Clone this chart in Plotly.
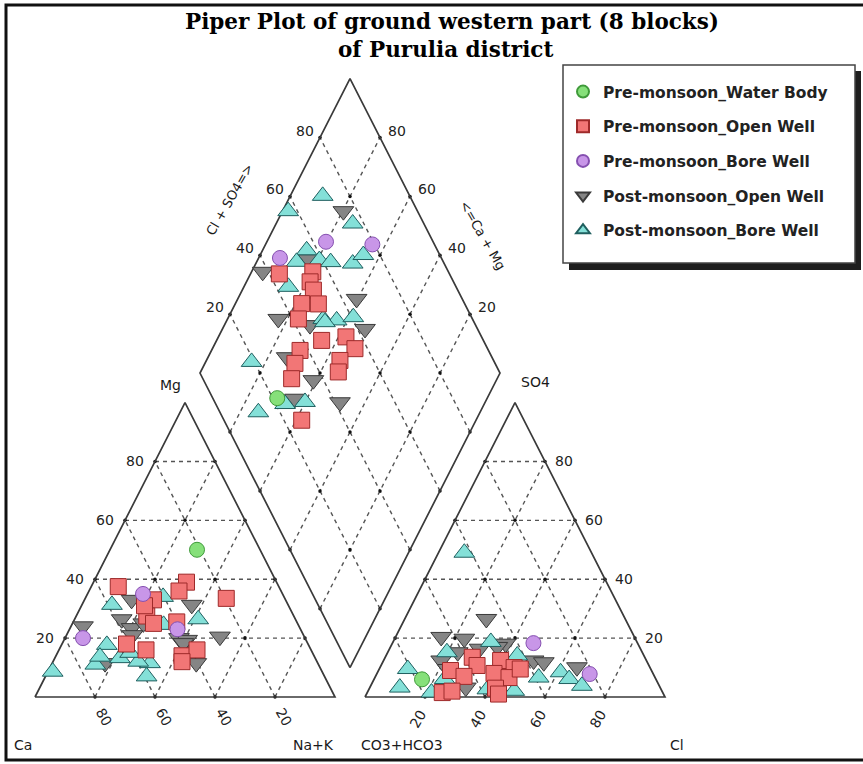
import numpy as np
import plotly.graph_objects as go

# ---------------- DATA (percent values) ----------------
series_names = ["Pre-monsoon_Water Body", "Pre-monsoon_Open Well", "Pre-monsoon_Bore Well",
                "Post-monsoon_Open Well", "Post-monsoon_Bore Well"]

# Cation triangle: Mg %, Na+K %  (Ca = 100 - Mg - Na+K)
wb_mg = [50]
wb_nak = [29]
pow_mg = [37.5, 39, 36, 33.5, 33, 27.5, 25, 25.5, 18, 16, 14, 16, 12, 31]
pow_nak = [9, 31, 30, 47, 23, 23.5, 27, 34.5, 21.5, 29, 42, 46, 43, 21]
pbw_mg = [20, 35, 23]
pbw_nak = [6, 18.5, 36]
qow_mg = [33, 31.3, 26.4, 23.4, 25, 24, 20.5, 20, 19.4, 11.5, 11.5, 18.3, 21]
qow_nak = [15.7, 36.6, 15.7, 20.5, 23.6, 4, 51.4, 38, 41, 17.6, 48, 40.3, 22]
qbw_mg = [8.6, 31.3, 34, 26.4, 17.7, 11, 13.2, 7, 11.5, 12, 24.5, 13.7, 15]
qbw_nak = [1.6, 10, 25.7, 41.2, 15.1, 14.6, 21.7, 33.7, 32.6, 28.4, 30.6, 14.8, 24.2]

# Anion triangle: SO4 %, Cl %  (CO3+HCO3 = 100 - SO4 - Cl)
wb_so4 = [6]
wb_cl = [16]
pow_so4 = [13.5, 10.7, 12.4, 10, 9, 7, 8, 6.6, 3, 1, 1.5, 2, 9.5]
pow_cl = [29, 32, 39, 44.7, 24, 29.5, 39, 44.7, 42, 44, 25, 28, 47]
pbw_so4 = [18.3, 7.8]
pbw_cl = [47, 71]
qow_so4 = [26.5, 20.4, 19.8, 18.1, 15.2, 16.4, 12.4, 12.4, 11.8, 10.1, 3.2, 17, 9.5]
qow_cl = [27.2, 15.2, 23.2, 37.8, 23.3, 30, 19.2, 50, 53.7, 65.6, 32, 35.6, 22.8]
qbw_so4 = [9.5, 3.2, 1.5, 18.7, 14.1, 6.6, 8.4, 6.1, 3.8, 2.1, 6.1, 2.6, 49, 15.2]
qbw_cl = [9.5, 10, 21.4, 32.6, 43.7, 54.6, 61, 65, 70.4, 48.7, 23.5, 39.5, 8.6, 19.7]

# Diamond: Cl+SO4 %, Ca+Mg %
wb_a = [21.5]
wb_cm = [70]
pow_a = [43.3, 54.8, 52.2, 51.9, 45.7, 51.2, 42.0, 46.1, 54.8, 55.8, 37.2, 33.3, 48.8, 46.3, 29.6, 25.9]
pow_cm = [90.4, 79.6, 78.8, 76.3, 77.9, 72.3, 76.4, 65.0, 57.5, 52.5, 70.5, 70.0, 55.5, 54.1, 68.5, 58.1]
pbw_a = [64.3, 79.3, 46.2]
pbw_cm = [80.3, 64.4, 92.9]
qow_a = [75.3, 55.5, 38.1, 64.8, 35.3, 62.5, 44.8, 31.6, 36.6, 27.3, 41.7]
qow_cm = [79.7, 83.2, 96.3, 60.4, 83.1, 52.5, 71.5, 73.8, 61.0, 64.0, 48.4]
qbw_a = [71.0, 56.9, 76.3, 56.4, 51.1, 59.0, 62.4, 69.5, 74.5, 44.1, 50.3, 54.5, 60.6, 50.3, 19.1, 23.1, 30.1, 12.8]
qbw_cm = [89.2, 98.1, 74.5, 85.3, 86.7, 79.4, 75.3, 67.7, 65.6, 85.2, 68.1, 63.4, 58.4, 67.0, 84.7, 66.4, 60.1, 73.9]

tick_values = [20, 40, 60, 80]

# ---------------- Piper geometry ----------------
H = np.sqrt(3) / 2
GAP = 0.1
BX, BY = 1 + GAP / 2, GAP * H


def cation_xy(mg, nak):
    mg = np.asarray(mg, float) / 100
    nak = np.asarray(nak, float) / 100
    return nak + mg / 2, mg * H


def anion_xy(so4, cl):
    so4 = np.asarray(so4, float) / 100
    cl = np.asarray(cl, float) / 100
    return 1 + GAP + cl + so4 / 2, so4 * H


def diamond_xy(a, cm):
    a = np.asarray(a, float) / 100
    cm = np.asarray(cm, float) / 100
    return BX + 0.5 * (a - cm), BY + H * (a + cm)


fig = go.Figure()

GRID = dict(color="#555555", width=1.4, dash="4px,4px")
EDGE = dict(color="#3a3a3a", width=1.7)


def add_line(xs, ys, style):
    fig.add_trace(go.Scatter(x=list(xs), y=list(ys), mode="lines", line=style,
                             hoverinfo="skip", showlegend=False))


# grid lines
gx, gy = [], []
for v in tick_values:
    segs = [cation_xy([v, v], [0, 100 - v]), cation_xy([0, 100 - v], [v, v]),
            cation_xy([0, 100 - v], [100 - v, 0]),
            anion_xy([v, v], [0, 100 - v]), anion_xy([0, 100 - v], [v, v]),
            anion_xy([0, 100 - v], [100 - v, 0]),
            diamond_xy([v, v], [0, 100]), diamond_xy([0, 100], [v, v])]
    for sx, sy in segs:
        gx += list(sx) + [None]
        gy += list(sy) + [None]
add_line(gx, gy, GRID)

# lattice dots
dx, dy = [], []
for i in range(0, 101, 20):
    for j in range(0, 101, 20):
        if i + j <= 100 and not (i == 100 or j == 100 or (i == 0 and j == 0)):
            x, y = cation_xy([i], [j]); dx.append(x[0]); dy.append(y[0])
            x, y = anion_xy([i], [j]); dx.append(x[0]); dy.append(y[0])
        if (i, j) not in [(0, 0), (0, 100), (100, 0), (100, 100)]:
            x, y = diamond_xy([i], [j]); dx.append(x[0]); dy.append(y[0])
fig.add_trace(go.Scatter(x=dx, y=dy, mode="markers", marker=dict(size=3.5, color="#111111"),
                         hoverinfo="skip", showlegend=False))

# outlines
ox, oy = [], []
for sx, sy in [cation_xy([0, 0, 100, 0], [0, 100, 0, 0]),
               anion_xy([0, 0, 100, 0], [0, 100, 0, 0]),
               diamond_xy([0, 0, 100, 100, 0], [0, 100, 100, 0, 0])]:
    ox += list(sx) + [None]
    oy += list(sy) + [None]
add_line(ox, oy, EDGE)

# ---------------- data traces ----------------
styles = {
    "Pre-monsoon_Water Body": dict(symbol="circle", size=15, color="#86e07a", line=dict(color="#3f9a3a", width=1)),
    "Pre-monsoon_Open Well": dict(symbol="square", size=16, color="#f27676", line=dict(color="#9e2a2a", width=1)),
    "Pre-monsoon_Bore Well": dict(symbol="circle", size=15, color="#c896e8", line=dict(color="#8550b0", width=1)),
    "Post-monsoon_Open Well": dict(symbol="triangle-down", size=18, color="#858585", line=dict(color="#3a3a3a", width=1)),
    "Post-monsoon_Bore Well": dict(symbol="triangle-up", size=18, color="#84e0d8", line=dict(color="#1f5f5f", width=1)),
}
data = {
    "Pre-monsoon_Water Body": (wb_mg, wb_nak, wb_so4, wb_cl, wb_a, wb_cm),
    "Pre-monsoon_Open Well": (pow_mg, pow_nak, pow_so4, pow_cl, pow_a, pow_cm),
    "Pre-monsoon_Bore Well": (pbw_mg, pbw_nak, pbw_so4, pbw_cl, pbw_a, pbw_cm),
    "Post-monsoon_Open Well": (qow_mg, qow_nak, qow_so4, qow_cl, qow_a, qow_cm),
    "Post-monsoon_Bore Well": (qbw_mg, qbw_nak, qbw_so4, qbw_cl, qbw_a, qbw_cm),
}
draw_order = ["Post-monsoon_Open Well", "Post-monsoon_Bore Well", "Pre-monsoon_Open Well",
              "Pre-monsoon_Bore Well", "Pre-monsoon_Water Body"]
for name in draw_order:
    mg, nak, so4, cl, a, cm = data[name]
    x1, y1 = cation_xy(mg, nak)
    x2, y2 = anion_xy(so4, cl)
    x3, y3 = diamond_xy(a, cm)
    fig.add_trace(go.Scatter(
        x=np.concatenate([x1, x2, x3]), y=np.concatenate([y1, y2, y3]),
        mode="markers", name=name, marker=styles[name],
        legendrank=series_names.index(name) + 1, legendgroup=name))

# ---------------- labels ----------------
ann = []
LBL = dict(family="DejaVu Sans", size=14, color="#1a1a1a")
TCK = dict(family="DejaVu Sans", size=14, color="#222222")


def at(x, y, text, xs=0, ys=0, ang=0, font=TCK):
    ann.append(dict(x=float(x), y=float(y), xref="x", yref="y", text=text, showarrow=False,
                    xanchor="center", yanchor="middle",
                    xshift=xs, yshift=ys, textangle=ang, font=font))


for v in tick_values:
    x, y = cation_xy([v], [0]); at(x[0], y[0], str(v), -20, 0)
    x, y = cation_xy([0], [100 - v]); at(x[0], y[0], str(v), 9, -20, 60)
    x, y = anion_xy([v], [100 - v]); at(x[0], y[0], str(v), 19, 0)
    x, y = anion_xy([0], [v]); at(x[0], y[0], str(v), -7, -22, -60)
    x, y = diamond_xy([v], [100]); at(x[0], y[0], str(v), -15, 7)
    x, y = diamond_xy([100], [v]); at(x[0], y[0], str(v), 17, 7)

x, y = cation_xy([100], [0]); at(x[0], y[0], "Mg", -15, 18, font=LBL)
x, y = cation_xy([0], [0]); at(x[0], y[0], "Ca", -12, -48, font=LBL)
x, y = cation_xy([0], [100]); at(x[0], y[0], "Na+K", -22, -48, font=LBL)
x, y = anion_xy([0], [0]); at(x[0], y[0], "CO3+HCO3", 37, -48, font=LBL)
x, y = anion_xy([0], [100]); at(x[0], y[0], "Cl", 12, -48, font=LBL)
x, y = anion_xy([100], [0]); at(x[0], y[0], "SO4", 20, 21, font=LBL)
x, y = diamond_xy([50], [100]); at(x[0], y[0], "Cl + SO4=>", -45, 26, -60, font=dict(LBL, size=13))
x, y = diamond_xy([100], [50]); at(x[0], y[0], "<=Ca + Mg", 57, -9, 60, font=dict(LBL, size=13))

W, HT = 863, 764
TFONT = dict(family="DejaVu Serif", size=21.5, color="#000000", weight="bold")
ann.append(dict(x=452 / W, y=1 - 21 / HT, xref="paper", yref="paper", showarrow=False,
                xanchor="center", yanchor="middle",
                text="Piper Plot of ground western part (8 blocks)", font=TFONT))
ann.append(dict(x=445 / W, y=1 - 49 / HT, xref="paper", yref="paper", showarrow=False,
                xanchor="center", yanchor="middle",
                text="of Purulia district", font=TFONT))

shapes = [
    dict(type="rect", xref="paper", yref="paper", x0=6 / W, x1=1.05, y0=1 - 760 / HT, y1=1 - 5 / HT,
         line=dict(color="#111111", width=3), fillcolor="rgba(0,0,0,0)"),
    # legend shadow and box
    dict(type="rect", xref="paper", yref="paper", x0=569 / W, x1=861 / W, y0=1 - 270 / HT, y1=1 - 71 / HT,
         line=dict(width=0), fillcolor="#1e1e1e"),
    dict(type="rect", xref="paper", yref="paper", x0=563 / W, x1=855 / W, y0=1 - 263 / HT, y1=1 - 65 / HT,
         line=dict(color="#444444", width=1.5), fillcolor="white"),
]

fig.update_layout(
    width=W, height=HT, autosize=False,
    margin=dict(l=0, r=0, t=0, b=0),
    paper_bgcolor="white", plot_bgcolor="white",
    xaxis=dict(range=[-35 / 300, (W - 35) / 300], visible=False, fixedrange=True),
    yaxis=dict(range=[(697 - HT) / 340, 697 / 340], visible=False, fixedrange=True),
    annotations=ann, shapes=shapes,
    legend=dict(x=563 / W, y=1 - 75 / HT, xanchor="left", yanchor="top",
                bgcolor="rgba(0,0,0,0)", borderwidth=0,
                font=dict(family="DejaVu Sans", size=15.5, color="#222222", weight="bold"),
                tracegroupgap=11.5, itemsizing="constant"),
    showlegend=True,
)

fig.write_html("out.html", config={"displayModeBar": False},
               post_script="document.body.style.margin='0';")
